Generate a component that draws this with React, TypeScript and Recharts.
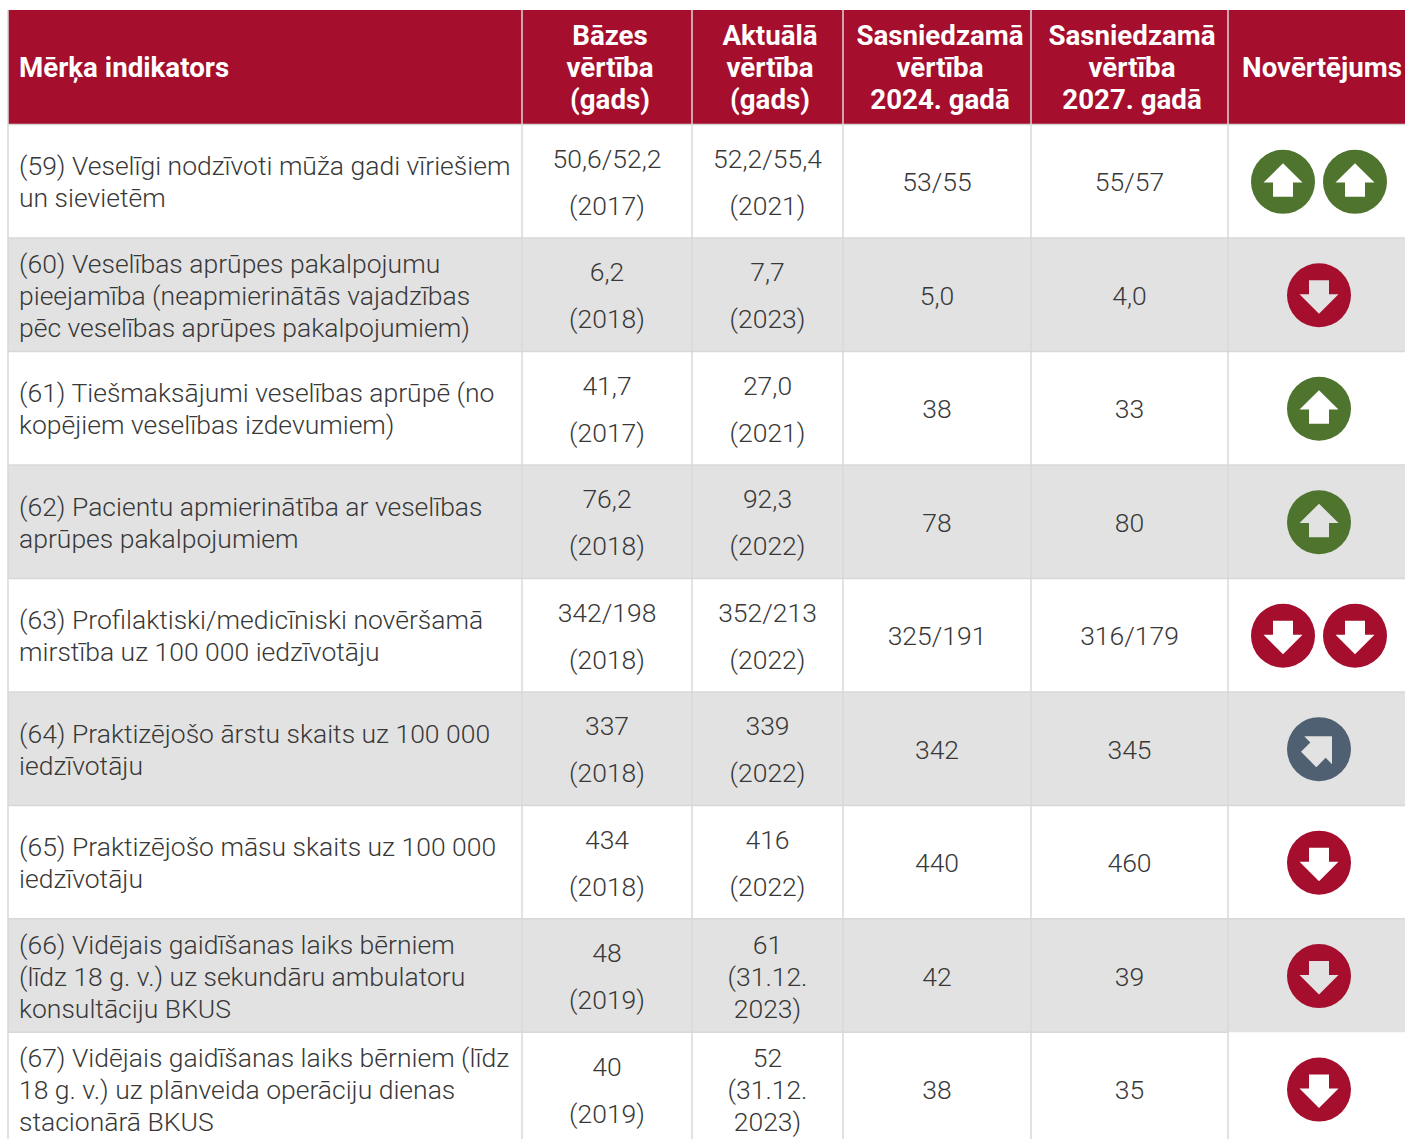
import { ScatterChart, Scatter, XAxis, YAxis, ReferenceArea, ReferenceLine } from 'recharts';

const FONT = 'Roboto, sans-serif';
const RED = '#a50e2d';
const GREEN = '#4f742d';
const SLATE = '#4e6071';
const GRID = '#d8d8d8';
const ROW_GREY = '#e2e2e2';
const INK = '#383838';

const headerLabels = [
    ['Mērķa indikators'],
    ['Bāzes', 'vērtība', '(gads)'],
    ['Aktuālā', 'vērtība', '(gads)'],
    ['Sasniedzamā', 'vērtība', '2024. gadā'],
    ['Sasniedzamā', 'vērtība', '2027. gadā'],
    ['Novērtējums'],
];

const indicators = [
    ['(59) Veselīgi nodzīvoti mūža gadi vīriešiem', 'un sievietēm'],
    ['(60) Veselības aprūpes pakalpojumu', 'pieejamība (neapmierinātās vajadzības', 'pēc veselības aprūpes pakalpojumiem)'],
    ['(61) Tiešmaksājumi veselības aprūpē (no', 'kopējiem veselības izdevumiem)'],
    ['(62) Pacientu apmierinātība ar veselības', 'aprūpes pakalpojumiem'],
    ['(63) Profilaktiski/medicīniski novēršamā', 'mirstība uz 100 000 iedzīvotāju'],
    ['(64) Praktizējošo ārstu skaits uz 100 000', 'iedzīvotāju'],
    ['(65) Praktizējošo māsu skaits uz 100 000', 'iedzīvotāju'],
    ['(66) Vidējais gaidīšanas laiks bērniem', '(līdz 18 g. v.) uz sekundāru ambulatoru', 'konsultāciju BKUS'],
    ['(67) Vidējais gaidīšanas laiks bērniem (līdz', '18 g. v.) uz plānveida operāciju dienas', 'stacionārā BKUS'],
];

const baseValues = [
    ['50,6/52,2', '(2017)'],
    ['6,2', '(2018)'],
    ['41,7', '(2017)'],
    ['76,2', '(2018)'],
    ['342/198', '(2018)'],
    ['337', '(2018)'],
    ['434', '(2018)'],
    ['48', '(2019)'],
    ['40', '(2019)'],
];

const currentValues = [
    ['52,2/55,4', '(2021)'],
    ['7,7', '(2023)'],
    ['27,0', '(2021)'],
    ['92,3', '(2022)'],
    ['352/213', '(2022)'],
    ['339', '(2022)'],
    ['416', '(2022)'],
    ['61', '(31.12.', '2023)'],
    ['52', '(31.12.', '2023)'],
];

const targets2024 = ['53/55', '5,0', '38', '78', '325/191', '342', '440', '42', '38'];
const targets2027 = ['55/57', '4,0', '33', '80', '316/179', '345', '460', '39', '35'];

const assessments = [
    ['up', 'up'],
    ['down'],
    ['up'],
    ['up'],
    ['down', 'down'],
    ['diagonal'],
    ['down'],
    ['down'],
    ['down'],
];

// column edges in page pixels, the x axis runs in the same units
const columnEdges = [8, 522, 692, 843, 1031, 1228, 1405];
const columnCentres = [607, 767.5, 937, 1129.5];
const headerCentres = [610, 770, 940, 1132, 1322];
const iconCentre = 1319;
const iconGap = 36;
const yDomain = [-0.01, 9.94];

const headerPoints = headerLabels.map((lines, i) => ({
    x: i === 0 ? 19 : headerCentres[i - 1],
    y: 0.5,
    lines,
    anchor: i === 0 ? 'start' : 'middle',
}));

const indicatorPoints = indicators.map((lines, i) => ({ x: 19, y: i + 1.5, lines, anchor: 'start' }));

const valueColumns = [baseValues, currentValues, targets2024.map(v => [v]), targets2027.map(v => [v])];
const valuePoints = valueColumns.flatMap((col, c) =>
    col.map((lines, i) => ({ x: columnCentres[c], y: i + 1.5, lines, anchor: 'middle' }))
);

const iconPoints = assessments.flatMap((icons, i) =>
    icons.map((kind, k) => ({
        x: iconCentre + (icons.length === 1 ? 0 : k === 0 ? -iconGap : iconGap),
        y: i + 1.5,
        kind,
    }))
);

const makeTextShape = (fontSize: number, fontWeight: number, fill: string, spread: (n: number) => number, dy: number) =>
    (props: any) => {
        const { cx, cy, payload } = props;
        const lines: string[] = payload.lines;
        const step = spread(lines.length);
        const top = cy - (step * (lines.length - 1)) / 2 + dy;
        return (
            <text
                textAnchor={payload.anchor}
                fontFamily={FONT}
                fontSize={fontSize}
                fontWeight={fontWeight}
                fill={fill}
            >
                {lines.map((l, i) => (
                    <tspan key={i} x={cx} y={top + i * step}>{l}</tspan>
                ))}
            </text>
        );
    };

const ICONS: Record<string, { color: string; arrow: string }> = {
    up: { color: GREEN, arrow: 'M0 -18.5L19.5 0.7H10V15H-10V0.7H-19.5Z' },
    down: { color: RED, arrow: 'M-10 -15H10V-1H19.5L0 18.5L-19.5 -1H-10Z' },
    diagonal: { color: SLATE, arrow: 'M13 -13H-14.7L-8.7 -6.7L-18 2.7L-2.7 18L6.7 8.7L13 15Z' },
};

const IconShape = (props: any) => {
    const { cx, cy, payload } = props;
    const icon = ICONS[payload.kind];
    const circle = 'M-32 0A32 32 0 1 0 32 0A32 32 0 1 0 -32 0Z';
    return (
        <path
            transform={`translate(${cx},${cy + 0.5})`}
            d={`${circle}${icon.arrow}`}
            fill={icon.color}
            fillRule="evenodd"
        />
    );
};

const rowIndexes = indicators.map((_, i) => i + 1);
const lastCol = columnEdges[columnEdges.length - 1];

export default function App() {
    return (
        <div style={{ position: 'absolute', left: 0, top: 0, width: 1405, height: 1139, background: '#fff' }}>
            <ScatterChart width={1405} height={1139} margin={{ top: 10, right: 0, bottom: 0, left: 8 }}>
                <XAxis type="number" dataKey="x" domain={[8, lastCol]} hide />
                <YAxis type="number" dataKey="y" domain={yDomain} reversed hide />

                <ReferenceArea x1={8} x2={lastCol} y1={yDomain[0]} y2={1} fill={RED} fillOpacity={1} stroke="none" />
                {rowIndexes.filter(r => r % 2 === 0).map(r => (
                    <ReferenceArea key={r} x1={8} x2={lastCol} y1={r} y2={r + 1} fill={ROW_GREY} fillOpacity={1} stroke="none" />
                ))}
                {rowIndexes.map(r => (
                    // the line under row 66 stops at the last column
                    <ReferenceLine
                        key={r}
                        segment={[{ x: 8, y: r }, { x: r === 9 ? columnEdges[5] : lastCol, y: r }]}
                        stroke={GRID}
                        strokeWidth={1.5}
                    />
                ))}
                {columnEdges.slice(0, -1).map(x => (
                    <ReferenceLine key={x} x={x} stroke={GRID} strokeWidth={1.5} />
                ))}

                <Scatter data={headerPoints} isAnimationActive={false} shape={makeTextShape(27.7, 700, '#ffffff', () => 32, 9.5)} />
                <Scatter data={indicatorPoints} isAnimationActive={false} shape={makeTextShape(26.5, 300, INK, () => 32, 10)} />
                <Scatter data={valuePoints} isAnimationActive={false} shape={makeTextShape(26.5, 300, INK, n => (n === 2 ? 47 : 32), 10)} />
                <Scatter data={iconPoints} isAnimationActive={false} shape={IconShape} />
            </ScatterChart>
        </div>
    );
}
